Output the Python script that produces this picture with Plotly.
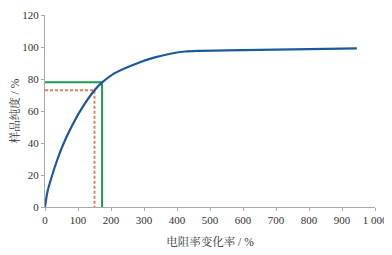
import plotly.graph_objects as go

# Curve data (resistivity change rate %, sample purity %)
curve_x = [0, 2, 8, 22, 38, 57, 80, 105, 150, 174, 210, 288, 333, 380, 424, 470, 550, 650, 750, 850, 945]
curve_y = [0, 3, 10, 20, 30, 40, 50, 59.5, 73, 78, 83.5, 90.5, 93.5, 95.8, 97.2, 97.6, 97.9, 98.2, 98.5, 98.8, 99.1]

# Reference lines
green_x = [0, 173, 173]
green_y = [78, 78, 0]
red_x = [0, 150, 150]
red_y = [73, 73, 0]

x_ticks = [0, 100, 200, 300, 400, 500, 600, 700, 800, 900, 1000]
x_ticktext = ["0", "100", "200", "300", "400", "500", "600", "700", "800", "900", "1 000"]
y_ticks = [0, 20, 40, 60, 80, 100, 120]

fig = go.Figure()
fig.add_trace(go.Scatter(x=green_x, y=green_y, mode="lines",
                         line=dict(color="#1e9a50", width=2), showlegend=False))
fig.add_trace(go.Scatter(x=red_x, y=red_y, mode="lines",
                         line=dict(color="#e08060", width=2, dash="3px,2px"), showlegend=False))
fig.add_trace(go.Scatter(x=curve_x, y=curve_y, mode="lines",
                         line=dict(color="#1b5a9a", width=2.2, shape="spline", smoothing=0.8),
                         showlegend=False))

font_family = "Liberation Serif, Noto Serif CJK SC, Noto Sans CJK SC, serif"
# the page body adds an 8px offset, so the figure is sized to 384x247
fig.update_layout(
    width=384, height=247,
    margin=dict(l=37, r=17, t=7, b=48),
    paper_bgcolor="white", plot_bgcolor="white",
    font=dict(family=font_family, size=11, color="#333333"),
)
fig.update_xaxes(
    range=[0, 1000], tickvals=x_ticks, ticktext=x_ticktext, automargin=False,
    showgrid=False, zeroline=False, showline=True, linecolor="#aaaaaa", linewidth=1,
    ticks="outside", ticklen=3, tickcolor="#aaaaaa",
    title=dict(text="电阻率变化率 / %", font=dict(size=11.5), standoff=12),
)
fig.update_yaxes(
    range=[0, 120], tickvals=y_ticks, automargin=False,
    showgrid=False, zeroline=False, showline=True, linecolor="#aaaaaa", linewidth=1,
    ticks="outside", ticklen=3, tickcolor="#aaaaaa",
    title=dict(text="样品纯度 / %", font=dict(size=11.5), standoff=8),
)

fig.write_html("out.html")
